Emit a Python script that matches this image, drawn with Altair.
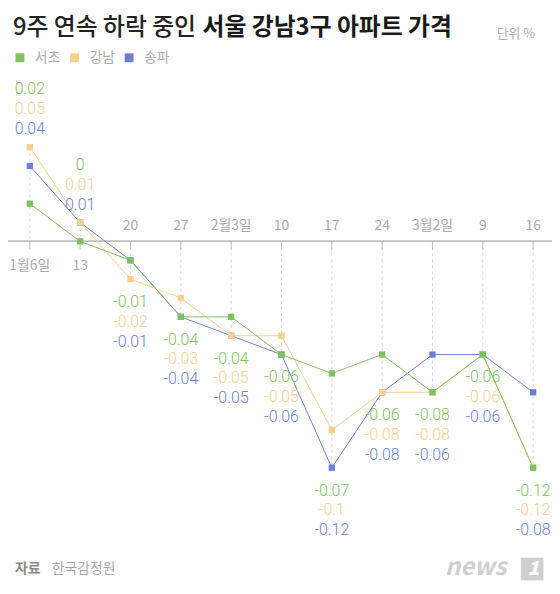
import altair as alt
import pandas as pd

# ---------------- data ----------------
categories = ["1월6일", "13", "20", "27", "2월3일", "10", "17", "24", "3월2일", "9", "16"]
series_names = ["서초", "강남", "송파"]
seocho = [0.02, 0, -0.01, -0.04, -0.04, -0.06, -0.07, -0.06, -0.08, -0.06, -0.12]
gangnam = [0.05, 0.01, -0.02, -0.03, -0.05, -0.05, -0.1, -0.08, -0.08, -0.06, -0.12]
songpa = [0.04, 0.01, -0.01, -0.04, -0.05, -0.06, -0.12, -0.08, -0.06, -0.06, -0.08]

title_light = "9주 연속 하락 중인"
title_bold = "서울 강남3구 아파트 가격"
unit_text = "단위 %"
source_label = "자료"
source_name = "한국감정원"
logo_word = "news"
logo_num = "1"

# ---------------- style ----------------
colors = ["#7DC25E", "#F9CF8C", "#6B7FD6"]
FONT = "Noto Sans CJK KR"
NUMFONT = "Roboto"
W, H = 548, 576

rows = []
for k, (s, vals) in enumerate(zip(series_names, [seocho, gangnam, songpa])):
    for c, v in zip(categories, vals):
        rows.append(dict(cat=c, series=s, value=v, idx=k))
df = pd.DataFrame(rows)

agg = df.groupby("cat", sort=False)["value"].agg(["min", "max"]).reindex(categories)
above = dict(zip(categories, (agg["max"] > 0).values))
grid = pd.DataFrame({
    "cat": categories,
    "top": agg["max"].clip(lower=0).values,
    "bottom": agg["min"].clip(upper=0).values,
})

lab = df.copy()
lab["text"] = lab["value"].map(lambda v: f"{v:g}")
lab["anchor"] = [agg.loc[c, "max"] if above[c] else agg.loc[c, "min"] for c in lab["cat"]]
lab["off"] = [(-18 - 20 * (2 - k)) if above[c] else (23 + 20 * k)
              for c, k in zip(lab["cat"], lab["idx"])]

ticks = pd.DataFrame({"cat": categories,
                      "zero": [0.0] * len(categories),
                      "off": [25 if above[c] else -15 for c in categories]})

# point scale (default padding 0.5): first point at 22, last at 529
xscale = alt.Scale(domain=categories, range=[-3.35, 554.35])
y_top = 233 / 1900.0
y_bottom = y_top - H / 1900.0
yscale = alt.Scale(domain=[y_bottom, y_top], nice=False, zero=False)
X = alt.X("cat:N", scale=xscale, axis=None, sort=categories)
color_scale = alt.Scale(domain=series_names, range=colors)

legend = alt.Legend(orient="none", legendX=5, legendY=41, direction="horizontal", title=None,
                    symbolType="square", symbolSize=80, symbolStrokeWidth=0,
                    labelFont=FONT, labelFontSize=14, labelColor="#aaaaaa", labelOffset=8,
                    columnPadding=7, padding=0)
COLOR = alt.Color("series:N", scale=color_scale, legend=legend)
STROKE = alt.Stroke("series:N", scale=color_scale, legend=legend)

gridlines = alt.Chart(grid).mark_rule(color="#d6d6d6", strokeDash=[3, 3], strokeWidth=1).encode(
    x=X, y=alt.Y("top:Q", scale=yscale, axis=None), y2="bottom:Q")

zero_line = alt.Chart(ticks).mark_rule(color="#bdbdbd", strokeWidth=1).encode(
    y=alt.Y("zero:Q", scale=yscale, axis=None), x=alt.value(0), x2=alt.value(W))

tick_marks = alt.Chart(ticks).mark_rule(color="#bdbdbd", strokeWidth=1, y2Offset=8).encode(
    x=X, y=alt.Y("zero:Q", scale=yscale, axis=None), y2="zero:Q")

tick_label_layers = []
for off in sorted(ticks["off"].unique()):
    tick_label_layers.append(
        alt.Chart(ticks[ticks["off"] == off]).mark_text(
            font=FONT, fontSize=14, color="#a8a8a8", baseline="middle", dy=int(off)).encode(
            x=X, y=alt.Y("zero:Q", scale=yscale, axis=None), text="cat:N"))

series_layers = []
for s in ["송파", "강남", "서초"]:
    d = df[df["series"] == s]
    line = alt.Chart(d).mark_line(strokeWidth=1).encode(
        x=X, y=alt.Y("value:Q", scale=yscale, axis=None), stroke=STROKE)
    pts = alt.Chart(d).mark_square(size=40, opacity=1, filled=True).encode(
        x=X, y=alt.Y("value:Q", scale=yscale, axis=None), color=COLOR)
    series_layers += [line, pts]

value_label_layers = []
for off in sorted(lab["off"].unique()):
    value_label_layers.append(
        alt.Chart(lab[lab["off"] == off]).mark_text(
            font=NUMFONT, fontSize=16, fontWeight=300, baseline="middle", dy=int(off)).encode(
            x=X, y=alt.Y("anchor:Q", scale=yscale, axis=None),
            text="text:N", color=COLOR))

def txt(t, x, y, **kw):
    return alt.Chart(pd.DataFrame({"t": [t]})).mark_text(font=FONT, **kw).encode(
        x=alt.value(x), y=alt.value(y), text="t:N")

title1 = txt(title_light, 5, 18, fontSize=24, fontWeight=500, color="#222222",
             align="left", baseline="middle")
title2 = txt(title_bold, 196, 18, fontSize=24, fontWeight=700, color="#1a1a1a",
             align="left", baseline="middle")
unit = txt(unit_text, 531, 24, fontSize=13, color="#aaaaaa", align="right", baseline="middle")
src1 = txt(source_label, 7, 563, fontSize=14, fontWeight=700, color="#8a8a8a",
           align="left", baseline="middle")
src2 = txt(source_name, 44, 563, fontSize=14, fontWeight=400, color="#a6a6a6",
           align="left", baseline="middle")
logo1 = txt(logo_word, 502, 562, fontSize=24, fontWeight=700, fontStyle="italic",
            color="#cfcfcf", align="right", baseline="middle")
logo_box = alt.Chart(pd.DataFrame({"t": [logo_num]})).mark_square(
    size=520, opacity=1, cornerRadius=5, color="#cfcfcf").encode(
    x=alt.value(528), y=alt.value(563), color=alt.value("#cfcfcf"))
logo2 = txt(logo_num, 529, 563, fontSize=19, fontWeight=900, fontStyle="italic",
            color="#ffffff", align="center", baseline="middle")

chart = alt.layer(
    gridlines, zero_line, tick_marks, *tick_label_layers,
    *series_layers, *value_label_layers,
    title1, title2, unit, src1, src2, logo1, logo_box, logo2,
).properties(
    width=W, height=H, padding=0, autosize=alt.AutoSizeParams(type="none")
).configure_view(stroke=None)

chart.save("out.html", embed_options={"renderer": "svg", "actions": False})
